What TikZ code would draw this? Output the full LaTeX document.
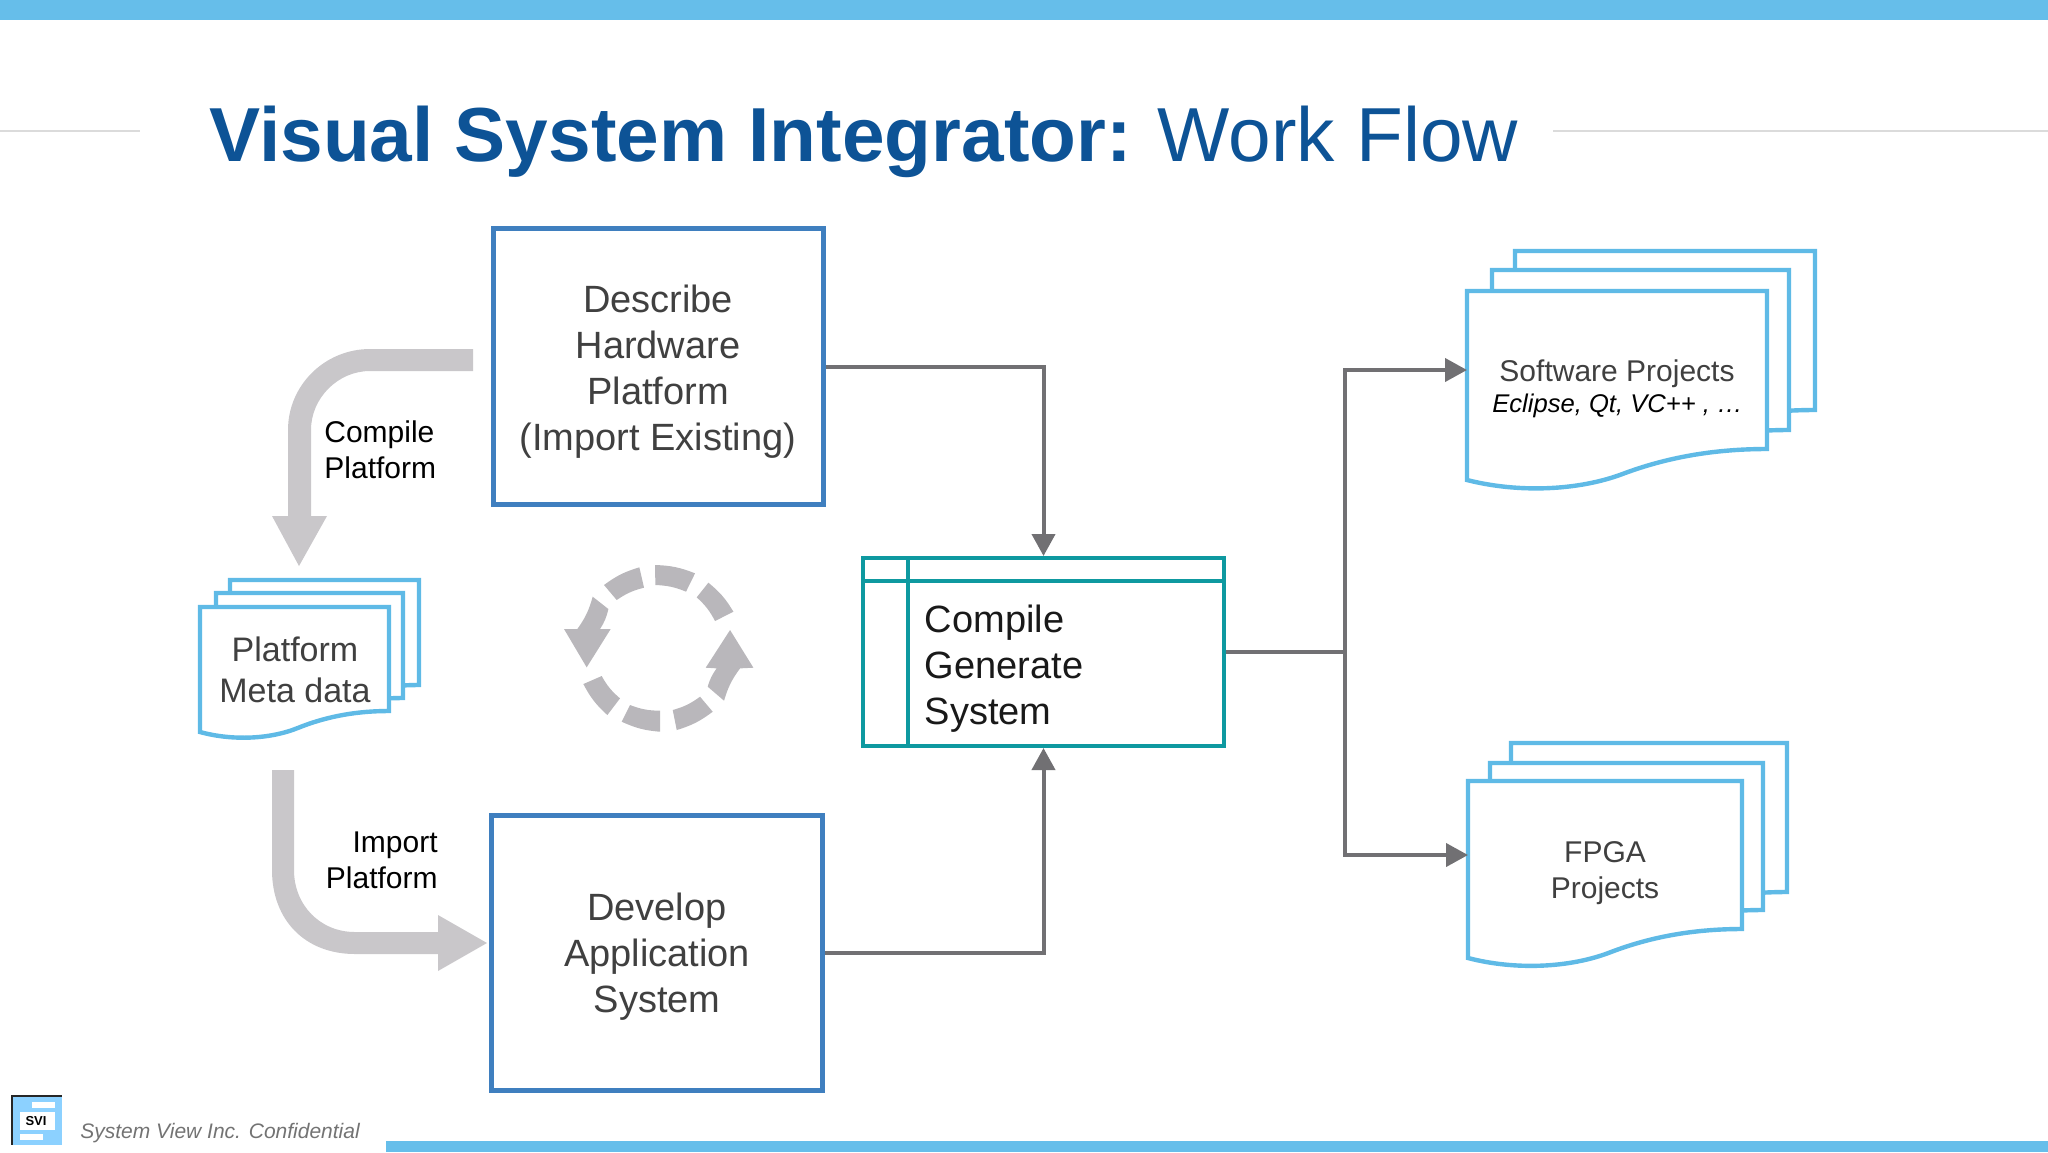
\documentclass[tikz,border=0pt]{standalone}
\usepackage{fontspec}
\setmainfont{Liberation Sans}
\usetikzlibrary{arrows.meta}
\definecolor{barblue}{HTML}{66BEEA}
\definecolor{docblue}{HTML}{5FBAE6}
\definecolor{boxblue}{HTML}{3F7FBF}
\definecolor{teal2}{HTML}{0E99A0}
\definecolor{conn}{HTML}{717073}
\definecolor{flowgray}{HTML}{C9C7CA}
\definecolor{cyclegray}{HTML}{B9B7BB}
\definecolor{titleblue}{HTML}{0D5396}
\definecolor{txt}{HTML}{404040}
\newcommand{\fs}[2]{\fontsize{#1}{#2}\selectfont}
\newcommand{\docpage}[5]{%
  \pgfmathsetmacro{\dw}{#2-#1}\pgfmathsetmacro{\dh}{#5-#4}%
  \draw[doc] (#1,#3) -- (#2,#3) -- (#2,#4)
    .. controls ({#1+.84*\dw},#4) and ({#1+.68*\dw},{#4+.22*\dh}) .. ({#1+.52*\dw},{#4+.8*\dh})
    .. controls ({#1+.37*\dw},{#4+1.35*\dh}) and ({#1+.17*\dw},{#4+1.42*\dh}) .. (#1,#5) -- cycle;}
\newcommand{\cycseg}[4]{\fill[cyclegray] #1 to[bend left=10] #2 -- #3 to[bend right=10] #4 -- cycle;}
\tikzset{
  x=0.5pt,y=-0.5pt,
  doc/.style={draw=docblue,fill=white,line width=2.2pt,line join=miter},
  bigbox/.style={draw=boxblue,line width=2.5pt,fill=white,inner sep=0pt,align=center,text=txt,font=\fs{19}{23}},
  tealbox/.style={draw=teal2,line width=2pt,fill=white,inner sep=0pt},
  conn/.style={draw=conn,line width=2pt},
  arr/.style={conn,-{Triangle[length=11pt,width=11.5pt]}},
  lab/.style={inner sep=0pt,align=center,text=txt,font=\fs{15}{18}},
  blk/.style={inner sep=0pt,text=black,font=\fs{15}{18}},
}
\begin{document}
\begin{tikzpicture}
\useasboundingbox (0,0) rectangle (2048,1152);
% bars and rules
\fill[barblue] (0,0) rectangle (2048,20);
\fill[barblue] (386,1141) rectangle (2048,1152);
\draw[line width=.8pt,draw=black!14] (0,131) -- (140,131);
\draw[line width=.8pt,draw=black!14] (1553,131) -- (2048,131);
% title
\node[anchor=base west,inner sep=0pt,text=titleblue,font=\fs{38.3}{46}] (title) at (209,161)
  {\textbf{Visual System Integrator:}\hspace{-1.2pt} Work Flow};
% boxes
\node[bigbox,minimum width=165pt,minimum height=138pt] (b1) at (658,366.5)
  {\rule{0pt}{19pt}Describe\\Hardware\\Platform\\(Import Existing)};
\node[bigbox,minimum width=165.5pt,minimum height=137.5pt] (b2) at (657,952.5)
  {\rule{0pt}{18pt}Develop\\Application\\System};
\node[tealbox,minimum width=180.5pt,minimum height=94pt] (cg) at (1043.5,652) {};
\draw[teal2,line width=2pt] (863,581) -- (1224,581);
\draw[teal2,line width=2pt] (908,558) -- (908,746);
\node[anchor=base west,inner sep=0pt,text=black!90,font=\fs{19}{23},align=left] (cgt) at (924.5,724.5)
  {Compile\\Generate\\System};
% doc stacks
\docpage{230}{419}{580}{685}{706}
\docpage{216}{403}{593}{698}{719}
\docpage{200}{389}{607}{711}{732}
\node[lab,font=\fs{17}{20.5}] (pm) at (295,670) {Platform\\Meta data};
\docpage{1515}{1815}{251}{410}{441}
\docpage{1492}{1789}{270}{430}{461}
\docpage{1467}{1767}{291}{449}{480}
\node[lab,anchor=base] (sw) at (1617,381) {Software Projects};
\node[inner sep=0pt,anchor=base,text=black,font=\fs{12.8}{15}\itshape] (swi) at (1617.5,412) {Eclipse, Qt, VC++ , …};
\docpage{1511}{1787}{743}{892}{921}
\docpage{1490}{1763}{763}{910}{939}
\docpage{1468}{1742}{781}{929}{958}
\node[lab] (fp) at (1605,873.5) {FPGA\\Projects};
% connectors
\coordinate (j) at (1345,652);
\coordinate (jt) at (1345,370);
\coordinate (jb) at (1345,855);
\coordinate (swL) at (1467,370);
\coordinate (fpL) at (1468,855);
\draw[arr] (b1.east |- 0,367) -| (cg.north);
\draw[arr] (b2.east) -| (cg.south);
\draw[conn] (cg.east) -- (j);
\draw[arr] (j) -- (jt) -- (swL);
\draw[arr] (j) -- (jb) -- (fpL);
% flow arrows
\fill[flowgray] (473,349) -- (370,349) .. controls (325,349) and (288,385) .. (288,430) -- (288,516) -- (272,516) -- (299,566) -- (327,516) -- (311,516) -- (311,430) .. controls (311,398) and (338,371) .. (370,371) -- (473,371) -- cycle;
\fill[flowgray] (272,770) -- (294,770) -- (294,870) .. controls (294,905) and (320,932) .. (355,932) -- (438,932) -- (438,915) -- (487,943) -- (438,971) -- (438,954) -- (355,954) .. controls (305,954) and (272,920) .. (272,870) -- cycle;
\node[blk,anchor=base west,align=left] (cp) at (324,478) {Compile\\Platform};
\node[blk,anchor=base east,align=right] (ip) at (438,888) {Import\\Platform};
% cycle symbol
\begin{scope}[shift={(520,540)},x=0.1667pt,y=-0.1667pt]
\cycseg{(405,75)}{(525,100)}{(498,155)}{(406,135)}
\cycseg{(565,128)}{(640,215)}{(585,243)}{(530,172)}
\cycseg{(578,515)}{(470,570)}{(458,510)}{(540,470)}
\cycseg{(420,575)}{(305,545)}{(330,495)}{(420,512)}
\cycseg{(262,525)}{(190,432)}{(245,408)}{(300,475)}
\cycseg{(252,135)}{(358,82)}{(372,143)}{(290,180)}
\fill[cyclegray] (612,482) to[bend left=10] (660,385) -- (700,383) -- (630,270) -- (557,383) -- (590,385) to[bend right=10] (563,440) -- cycle;
\fill[cyclegray] (218,170) to[bend left=10] (172,267) -- (132,267) -- (200,382) -- (272,267) -- (240,267) to[bend right=10] (265,207) -- cycle;
\end{scope}
% footer
\fill[black!85] (11,1095) rectangle (62,1097);
\fill[black!85] (11,1095) rectangle (13,1145);
\fill[blue!40!cyan!45] (13,1097) rectangle (62,1145);
\fill[white] (32,1102) rectangle (55,1108);
\fill[white] (20,1112) rectangle (55,1130);
\fill[white] (20,1134) rectangle (43,1140);
\node[inner sep=0pt,text=black,font=\fs{6.5}{8}\bfseries] (svi) at (36,1121) {SVI};
\node[anchor=base west,inner sep=0pt,text=black!55,font=\fs{10.5}{13}\itshape] (conf) at (80,1138) {System View Inc. Confidential};
\end{tikzpicture}
\end{document}
